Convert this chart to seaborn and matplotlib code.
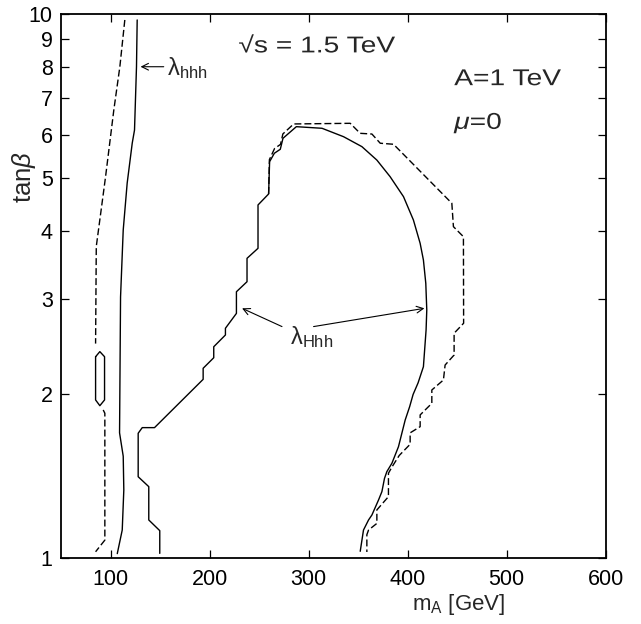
import matplotlib
matplotlib.use("Agg")
import matplotlib.pyplot as plt
import pandas as pd
import seaborn as sns
from matplotlib.patheffects import AbstractPathEffect
from matplotlib.transforms import Affine2D

# ---- lambda_hhh contours (m_A in GeV, tan beta) ----
hhh_solid_m = [126.9, 126.2, 124.2, 121.9, 116.8, 112.8, 110.1, 109.1, 112.8, 113.4, 111.8, 106.8]
hhh_solid_tb = [9.75, 8.00, 6.12, 5.79, 4.89, 4.01, 3.02, 1.70, 1.54, 1.335, 1.127, 1.02]

hhh_dash_upper_m = [114.4, 109.4, 103.3, 94.95, 85.6, 84.9]
hhh_dash_upper_tb = [9.75, 8.00, 6.66, 5.02, 3.74, 2.48]
hhh_dash_lower_m = [92.6, 94.25, 94.25, 84.9]
hhh_dash_lower_tb = [1.873, 1.847, 1.08, 1.028]

island_m = [84.9, 89.2, 93.95, 93.95, 89.2, 84.9, 84.9]
island_tb = [2.346, 2.397, 2.346, 1.954, 1.907, 1.954, 2.346]

# ---- lambda_Hhh contours ----
Hhh_solid_m = [149.7, 149.7, 138.6, 138.6, 127.9, 127.9, 132.0, 144.4, 193.5, 193.5,
               204.2, 204.2, 216.0, 216.0, 227.1, 227.1, 237.8, 237.8, 248.9, 248.9,
               259.6, 260.6, 265.4, 271.4, 274.1, 287.6, 313.5, 335.3, 353.8, 368.9,
               382.3, 395.8, 405.8, 412.6, 415.9, 418.3, 419.3, 418.6, 415.9, 410.5,
               405.5, 402.0, 397.5, 390.7, 384.1, 379.0, 376.6, 374.0, 370.6, 363.9,
               360.5, 355.4, 352.1]
Hhh_solid_tb = [1.021, 1.124, 1.176, 1.354, 1.412, 1.697, 1.738, 1.738, 2.132, 2.234,
                2.336, 2.447, 2.572, 2.646, 2.818, 3.088, 3.222, 3.557, 3.711, 4.458,
                4.670, 5.354, 5.548, 5.642, 5.910, 6.208, 6.166, 5.950, 5.705, 5.390,
                5.024, 4.617, 4.183, 3.790, 3.532, 3.201, 2.859, 2.627, 2.249, 2.100,
                2.000, 1.899, 1.795, 1.603, 1.495, 1.443, 1.402, 1.326, 1.280, 1.201,
                1.176, 1.127, 1.030]

Hhh_dash_m = [259.6, 260.4, 265.6, 271.6, 274.0, 284.9, 342.0, 352.0, 363.9, 372.3,
              385.7, 444.6, 446.2, 456.3, 456.5, 446.9, 446.9, 437.8, 436.1, 424.4,
              424.4, 412.6, 412.6, 402.5, 402.5, 391.5, 384.0, 380.6, 380.6, 368.9,
              368.9, 360.5, 358.8, 358.8]
Hhh_dash_tb = [4.670, 5.40, 5.66, 5.76, 6.02, 6.28, 6.297, 6.036, 6.018, 5.788,
               5.763, 4.490, 4.067, 3.898, 2.703, 2.591, 2.363, 2.265, 2.126, 2.038,
               1.926, 1.834, 1.745, 1.700, 1.620, 1.545, 1.470, 1.433, 1.298, 1.227,
               1.159, 1.127, 1.105, 1.027]

x_ticks = [100, 200, 300, 400, 500, 600]
y_ticks = [1, 2, 3, 4, 5, 6, 7, 8, 9, 10]
y_tick_labels = ["1", "2", "3", "4", "5", "6", "7", "8", "9", "10"]


class WideGlyphs(AbstractPathEffect):
    """Draw text horizontally widened about its anchor point."""

    def __init__(self, sx):
        super().__init__()
        self.sx = sx

    def draw_path(self, renderer, gc, tpath, affine, rgbFace=None):
        m = affine.get_matrix()
        tx, ty = m[0, 2], m[1, 2]
        widen = Affine2D().translate(-tx, -ty).scale(self.sx, 1.0).translate(tx, ty)
        renderer.draw_path(gc, tpath, affine + widen, rgbFace)


sns.set_theme(style="ticks")
plt.rcParams["font.family"] = ["Liberation Sans", "DejaVu Sans"]
plt.rcParams["mathtext.fontset"] = "custom"
plt.rcParams["mathtext.rm"] = "Liberation Sans"
plt.rcParams["mathtext.it"] = "Liberation Sans:italic"
plt.rcParams["mathtext.bf"] = "Liberation Sans:bold"

fig = plt.figure(figsize=(6.41, 6.24), dpi=100)
ax = fig.add_axes([0.0952, 0.1053, 0.8498, 0.8723])


def draw(m, tb, style="-"):
    df = pd.DataFrame({"m": m, "tb": tb})
    sns.lineplot(data=df, x="m", y="tb", sort=False, estimator=None,
                 color="black", lw=1.0, linestyle=style, legend=False, ax=ax)


dash = (0, (5, 2.2))
draw(hhh_solid_m, hhh_solid_tb)
draw(hhh_dash_upper_m, hhh_dash_upper_tb, dash)
draw(hhh_dash_lower_m, hhh_dash_lower_tb, dash)
draw(island_m, island_tb)
draw(Hhh_dash_m, Hhh_dash_tb, dash)
draw(Hhh_solid_m, Hhh_solid_tb)

ax.set_yscale("log")
ax.set_xlim(50, 600)
ax.set_ylim(1, 10)
ax.set_xticks(x_ticks)
ax.set_xticklabels([str(t) for t in x_ticks])
ax.set_yticks(y_ticks)
ax.set_yticklabels(y_tick_labels)
ax.minorticks_off()
ax.tick_params(axis="both", which="both", direction="in", length=5.5, width=0.9,
               top=True, right=True, labelsize=15.5, colors="black")
ax.tick_params(axis="x", pad=8)
ax.tick_params(axis="y", pad=6)
for sp in ax.spines.values():
    sp.set_linewidth(1.3)
    sp.set_color("black")

ax.set_xlabel("m$_{\\mathrm{A}}$ [GeV]", fontsize=16)
ax.xaxis.set_label_coords(0.729, -0.062)
ax.set_ylabel("tan$\\beta$", fontsize=18.5)
ax.yaxis.set_label_coords(-0.042, 0.70)

wide = [WideGlyphs(1.23)]
ax.text(229.1, 8.50, "√s = 1.5 TeV", fontsize=16.5, va="baseline", ha="left",
        path_effects=wide)
ax.text(447.0, 7.40, "A=1 TeV", fontsize=16.5, va="baseline", ha="left",
        path_effects=wide)
ax.text(447.0, 6.15, "$\\mu$=0", fontsize=16.5, va="baseline", ha="left",
        path_effects=wide)

arrow = dict(arrowstyle="->", lw=0.8, color="black", shrinkA=0, shrinkB=0)
ax.annotate("", xy=(130.3, 8.0), xytext=(153.7, 8.0), arrowprops=arrow)
ax.text(157.2, 7.95, "λ$_{\\mathrm{hhh}}$", fontsize=17, va="center", ha="left")

ax.annotate("", xy=(232.8, 2.879), xytext=(273.1, 2.665), arrowprops=arrow)
ax.annotate("", xy=(416.9, 2.879), xytext=(305.0, 2.665), arrowprops=arrow)
ax.text(302.7, 2.55, "λ$_{\\mathrm{Hhh}}$", fontsize=17, va="center", ha="center")

fig.savefig("out.png", dpi=100)
